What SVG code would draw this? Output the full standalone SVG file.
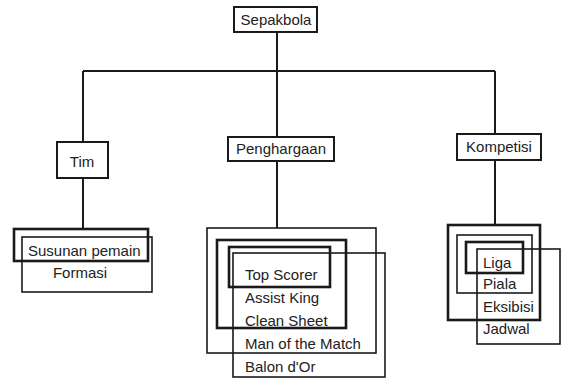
<svg xmlns="http://www.w3.org/2000/svg" width="563" height="380" viewBox="0 0 563 380">
<style>
  .box{fill:#fff;stroke:#1a1a1a;stroke-width:2}
  .frame{fill:none;stroke:#1a1a1a;stroke-width:1.6}
  .thick{fill:none;stroke:#1a1a1a;stroke-width:2.6}
  .lbl{font-family:"Liberation Sans",Arial,sans-serif;font-size:15px;fill:#222}
  .mid{text-anchor:middle}
  .conn{fill:none;stroke:#1a1a1a;stroke-width:2}
</style>
<rect width="563" height="380" fill="#fff"/>
<g id="connectors">
  <path class="conn" d="M277 32 V137"/>
  <path class="conn" d="M83 71 H495"/>
  <path class="conn" d="M83 71 V142"/>
  <path class="conn" d="M495 71 V134"/>
  <path class="conn" d="M83 178 V229"/>
  <path class="conn" d="M277 161 V228"/>
  <path class="conn" d="M495 160 V225"/>
</g>
<g id="sepakbola">
  <rect class="box" x="234" y="7" width="83" height="25"/>
  <text class="lbl mid" x="276" y="25">Sepakbola</text>
</g>
<g id="tim">
  <rect class="box" x="57" y="142" width="51" height="36"/>
  <text class="lbl mid" x="82" y="167">Tim</text>
</g>
<g id="penghargaan">
  <rect class="box" x="228" y="137" width="106" height="24"/>
  <text class="lbl mid" x="281" y="154">Penghargaan</text>
</g>
<g id="kompetisi">
  <rect class="box" x="457" y="134" width="84" height="26"/>
  <text class="lbl mid" x="499" y="152">Kompetisi</text>
</g>
<g id="tim-list">
  <rect class="frame" x="22" y="237" width="130" height="55"/>
  <rect class="thick" x="14" y="229" width="134" height="32"/>
  <text class="lbl" x="28" y="256">Susunan pemain</text>
  <text class="lbl mid" x="80" y="278">Formasi</text>
</g>
<g id="penghargaan-list">
  <rect class="frame" x="207" y="228" width="169" height="125"/>
  <rect class="thick" x="217" y="240" width="129" height="88"/>
  <rect class="thick" x="229" y="247" width="101" height="40"/>
  <rect class="frame" x="233" y="253" width="152" height="124"/>
  <text class="lbl" x="245" y="280">Top Scorer</text>
  <text class="lbl" x="245" y="303">Assist King</text>
  <text class="lbl" x="245" y="326">Clean Sheet</text>
  <text class="lbl" x="245" y="349">Man of the Match</text>
  <text class="lbl" x="245" y="372">Balon d'Or</text>
</g>
<g id="kompetisi-list">
  <rect class="thick" x="448" y="225" width="92" height="95"/>
  <rect class="frame" x="457" y="235" width="75" height="58"/>
  <rect class="thick" x="466" y="242" width="57" height="31"/>
  <rect class="frame" x="477" y="249" width="83" height="95"/>
  <text class="lbl" x="483" y="268">Liga</text>
  <text class="lbl" x="483" y="289">Piala</text>
  <text class="lbl" x="483" y="312">Eksibisi</text>
  <text class="lbl" x="483" y="334">Jadwal</text>
</g>
</svg>
